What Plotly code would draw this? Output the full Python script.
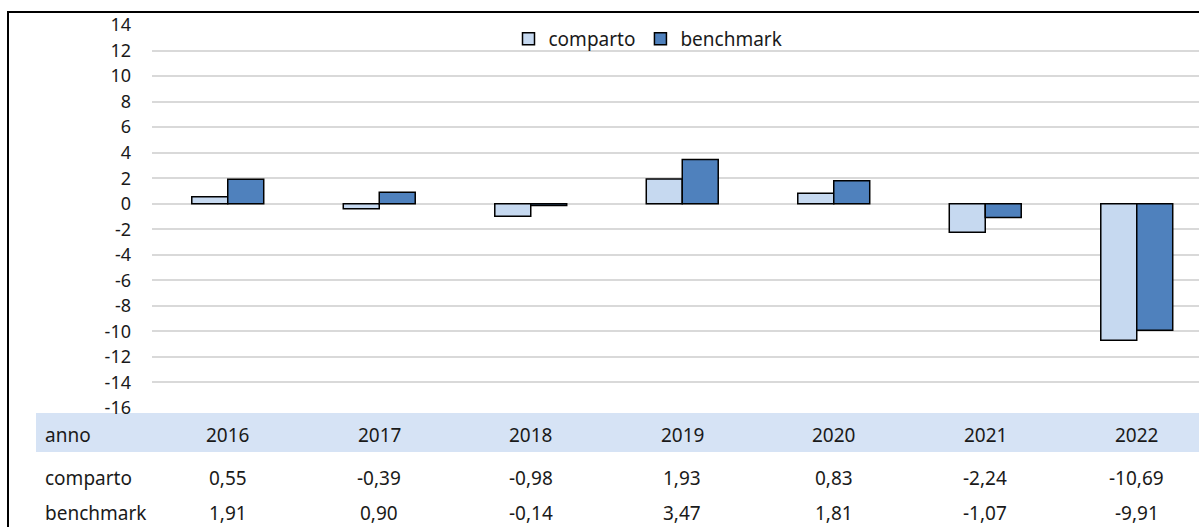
import plotly.graph_objects as go

years = ["2016", "2017", "2018", "2019", "2020", "2021", "2022"]
comparto = [0.55, -0.39, -0.98, 1.93, 0.83, -2.24, -10.69]
benchmark = [1.91, 0.90, -0.14, 3.47, 1.81, -1.07, -9.91]
series_names = ["comparto", "benchmark"]
y_ticks = list(range(-16, 15, 2))

W, H = 1199, 527
L, R, T, B = 152, 0, 25, 119
pw, ph = W - L - R, H - T - B
px_per_cat = 151.5

def px_x(p):
    return (p - L) / pw

def px_y(p):
    return (H - B - p) / ph

def fmt(v):
    return f"{v:.2f}".replace(".", ",")

FONT = "Noto Sans"
TXT = "#1a1a1a"
xs = list(range(len(years)))

fig = go.Figure()
fig.add_trace(go.Bar(x=xs, y=comparto, name=series_names[0],
                     marker=dict(color="#c6d9f0", line=dict(color="#000000", width=1.5))))
fig.add_trace(go.Bar(x=xs, y=benchmark, name=series_names[1],
                     marker=dict(color="#4f81bd", line=dict(color="#000000", width=1.5))))

shapes = []
# table header band
shapes.append(dict(type="rect", xref="paper", yref="paper",
                   x0=px_x(36), x1=px_x(1210), y0=px_y(413), y1=px_y(452),
                   fillcolor="#d6e3f5", line=dict(width=0), layer="below"))
# outer border (left and top)
shapes.append(dict(type="line", xref="paper", yref="paper",
                   x0=px_x(8), x1=px_x(8), y0=px_y(11), y1=px_y(540),
                   line=dict(color="#000000", width=2)))
shapes.append(dict(type="line", xref="paper", yref="paper",
                   x0=px_x(7), x1=px_x(1210), y0=px_y(12), y1=px_y(12),
                   line=dict(color="#000000", width=2)))

annotations = []
row_y = [px_y(435), px_y(478), px_y(513)]
row_labels = ["anno", series_names[0], series_names[1]]
for lbl, yy in zip(row_labels, row_y):
    annotations.append(dict(text=lbl, xref="paper", yref="paper", x=px_x(43), y=yy,
                            xanchor="left", yanchor="middle", showarrow=False,
                            font=dict(family=FONT, size=19, color=TXT)))
for i, yr in enumerate(years):
    for txt, yy in zip([yr, fmt(comparto[i]), fmt(benchmark[i])], row_y):
        annotations.append(dict(text=txt, xref="x", yref="paper", x=i, y=yy,
                                xanchor="center", yanchor="middle", showarrow=False,
                                font=dict(family=FONT, size=19, color=TXT)))

fig.update_layout(
    width=W, height=H,
    margin=dict(l=L, r=R, t=T, b=B, pad=0),
    paper_bgcolor="white", plot_bgcolor="white",
    barmode="group", bargap=0.525, bargroupgap=0,
    font=dict(family=FONT, size=18, color=TXT),
    showlegend=True,
    legend=dict(orientation="h", x=px_x(648), y=px_y(39), xanchor="center", yanchor="middle",
                font=dict(family=FONT, size=19, color=TXT), bgcolor="rgba(0,0,0,0)",
                itemwidth=30, tracegroupgap=0),
    xaxis=dict(range=[-0.5, -0.5 + pw / px_per_cat], showticklabels=False, showgrid=False,
               zeroline=False, showline=False, ticks=""),
    yaxis=dict(range=[-16, 14], tickvals=y_ticks,
               ticktext=[str(v) for v in y_ticks],
               showgrid=True, gridcolor="#d9d9d9", gridwidth=1.5,
               zeroline=True, zerolinecolor="#d9d9d9", zerolinewidth=1.5,
               showline=False, ticks="", ticklabelstandoff=20,
               tickfont=dict(family=FONT, size=18, color=TXT)),
    shapes=shapes, annotations=annotations,
)

fig.write_html("out.html", config={"displayModeBar": False},
               post_script="document.body.style.margin='0';document.body.style.padding='0';")
